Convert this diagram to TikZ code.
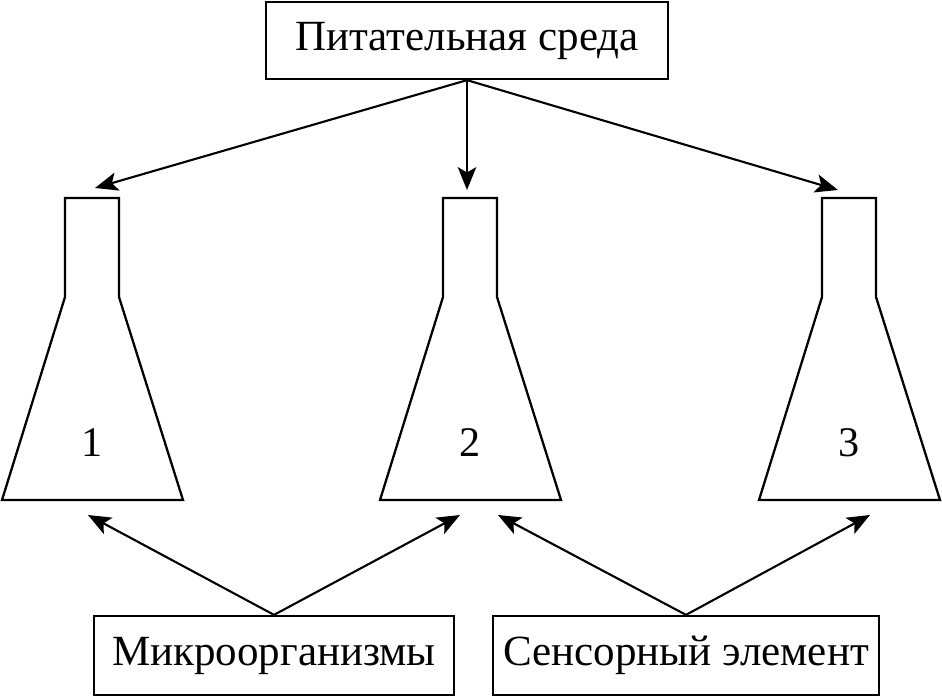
\documentclass[tikz,border=0pt]{standalone}
\usepackage{fontspec}
\setmainfont{Liberation Serif}
\usetikzlibrary{arrows.meta}
\tikzset{
  box/.style={draw, line width=1.3pt, inner sep=0pt, font=\fontsize{24.5}{28}\selectfont},
  flask/.style={draw, line width=1.3pt, line join=miter},
  conn/.style={line width=1.2pt, -{Stealth[length=13pt,width=10.5pt,inset=3pt]}},
  lbl/.style={font=\fontsize{24}{28}\selectfont, inner sep=0pt}
}
\begin{document}
\begin{tikzpicture}[x=0.02cm,y=-0.02cm]
\useasboundingbox (0,0) rectangle (942,697);
% top box
\node[box, minimum width=402*0.02cm, minimum height=77*0.02cm] (top) at (467,40.5) {Питательная среда};
% bottom boxes
\node[box, minimum width=360*0.02cm, minimum height=79*0.02cm] (micro) at (274,655.5) {Микроорганизмы};
\node[box, minimum width=386*0.02cm, minimum height=79*0.02cm] (sens) at (686,655.5) {Сенсорный элемент};
% flasks
\foreach \c/\n in {92/1,470/2,849/3}{
  \draw[flask] (\c-27,297) -- (\c-27,198) -- (\c+27,198) -- (\c+27,297) -- (\c+91,500) -- (\c-90,500) -- cycle;
  \node[lbl] (f\n) at (\c,443) {\n};
}
% arrow targets
\coordinate (t1) at (95,188);
\coordinate (t2) at (467,190);
\coordinate (t3) at (838,190);
\coordinate (b1) at (88,515);
\coordinate (b2) at (460,515);
\coordinate (b3) at (498,515);
\coordinate (b4) at (870,515);
\draw[conn] (top.south) -- (t1);
\draw[conn] (top.south) -- (t2);
\draw[conn] (top.south) -- (t3);
\draw[conn] (micro.north) -- (b1);
\draw[conn] (micro.north) -- (b2);
\draw[conn] (sens.north) -- (b3);
\draw[conn] (sens.north) -- (b4);
\end{tikzpicture}
\end{document}
